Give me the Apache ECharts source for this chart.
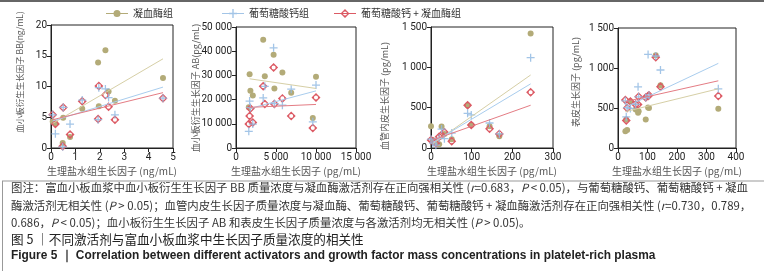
<!DOCTYPE html>
<html>
<head>
<meta charset="utf-8">
<script src="https://cdn.jsdelivr.net/npm/echarts@6/dist/echarts.min.js"></script>
<style>
  html, body { margin: 0; padding: 0; background: #fff; }
  #main { width: 764px; height: 271px; }
</style>
</head>
<body>
<div id="main"></div>
<script>
// group names
var groupNames = ['凝血酶组', '葡萄糖酸钙组', '葡萄糖酸钙 + 凝血酶组'];

// panel 1: PDGF-BB (ng/mL)
var bbX        = [0.07, 0.18, 0.48, 0.50, 0.78, 1.28, 1.93, 1.96, 2.23, 2.36, 2.62, 4.59];
var bbThrombin = [4.3, 4.0, 0.8, 4.9, 1.8, 6.4, 13.9, 6.8, 15.9, 9.2, 7.7, 11.4];
var bbCalcium  = [5.4, 2.3, 0.2, 6.6, 3.9, 7.8, 4.6, 9.8, 9.6, 8.2, 5.4, 8.1];
var bbMixed    = [5.4, 3.9, 0.3, 6.6, 2.2, 7.6, 4.7, 10.1, 8.6, 6.7, 4.6, 8.1];
var bbFitThrombin = [[0.07, 4.0], [4.59, 14.5]];
var bbFitCalcium  = [[0.07, 4.4], [4.59, 9.9]];
var bbFitMixed    = [[0.07, 4.6], [4.59, 9.0]];

// panel 2: PDGF-AB (pg/mL)
var abX        = [1600, 1700, 1800, 2100, 3400, 3600, 4700, 4800, 5800, 6900, 9600, 10000];
var abThrombin = [16800, 30500, 23700, 21700, 44700, 29600, 38500, 24600, 31200, 22800, 12400, 29400];
var abCalcium  = [6900, 19400, 16700, 9900, 20700, 25500, 41400, 18300, 17700, 24300, 10800, 26000];
var abMixed    = [9900, 13200, 16300, 10500, 25500, 18200, 33300, 18200, 20500, 13200, 8300, 20900];
var abFitThrombin = [[1700, 28600], [10000, 24600]];
var abFitCalcium  = [[1700, 16300], [10000, 23600]];
var abFitMixed    = [[1700, 16800], [10000, 18000]];

// panel 3: VEGF (pg/mL)
var veX        = [0, 5, 12, 20, 26, 33, 51, 90, 99, 144, 168, 245];
var veThrombin = [270, 95, 70, 45, 265, 175, 110, 530, 285, 270, 145, 1420];
var veCalcium  = [110, 60, 35, 120, 235, 115, 185, 430, 410, 310, 175, 1120];
var veMixed    = [100, 80, 60, 140, 160, 195, 85, 530, 285, 240, 175, 690];
var veFitThrombin = [[5, 55], [245, 905]];
var veFitCalcium  = [[5, 70], [245, 795]];
var veFitMixed    = [[5, 100], [245, 530]];

// panel 4: EGF (pg/mL)
var egX        = [25, 28, 31, 42, 60, 68, 70, 94, 102, 105, 128, 144, 340];
var egThrombin = [210, 355, 225, 585, 480, 440, 460, 355, 505, 500, 1160, 785, 490];
var egCalcium  = [590, 390, 505, 495, 545, 765, 640, 630, 1170, 660, 1150, 975, 740];
var egMixed    = [600, 345, 500, 580, 545, 545, 640, 632, 650, 660, 1135, 765, 650];
var egFitThrombin = [[25, 455], [340, 740]];
var egFitCalcium  = [[25, 510], [340, 1058]];
var egFitMixed    = [[25, 580], [340, 840]];

// axis ranges / ticks
var xMax = [5, 15000, 300, 400];
var xStep = [1, 5000, 100, 100];
var yMax = [20, 50000, 1500, 1500];
var yStep = [5, 10000, 500, 500];
var xTitles = ['生理盐水组生长因子 (ng/mL)', '生理盐水组生长因子 (pg/mL)', '生理盐水组生长因子 (pg/mL)', '生理盐水组生长因子 (pg/mL)'];
var yTitles = ['血小板衍生生长因子 BB(ng/mL)', '血小板衍生生长因子 AB(pg/mL)', '血管内皮生长因子 (pg/mL)', '表皮生长因子 (pg/mL)'];

var panels = [
  { x: bbX, ys: [bbThrombin, bbCalcium, bbMixed], fits: [bbFitThrombin, bbFitCalcium, bbFitMixed] },
  { x: abX, ys: [abThrombin, abCalcium, abMixed], fits: [abFitThrombin, abFitCalcium, abFitMixed] },
  { x: veX, ys: [veThrombin, veCalcium, veMixed], fits: [veFitThrombin, veFitCalcium, veFitMixed] },
  { x: egX, ys: [egThrombin, egCalcium, egMixed], fits: [egFitThrombin, egFitCalcium, egFitMixed] }
];

var colors = ['#b3ab78', '#93bbe3', '#dc5a64'];
var fitColors = ['#d6cfa6', '#a9cdee', '#e47c84'];
var symbols = [
  'circle',
  'path://M4.2,0H5.8V4.2H10V5.8H5.8V10H4.2V5.8H0V4.2H4.2Z',
  'path://M10,0L20,10L10,20L0,10Z M10,5.5A4.5,4.5 0 1,0 10,14.5A4.5,4.5 0 1,0 10,5.5Z'
];
var symbolSizes = [6, 8, 9];
var legendIcons = [
  'path://M0,4H22V5H0Z M11,1A3.5,3.5 0 1,1 11,8A3.5,3.5 0 1,1 11,1Z',
  'path://M0,4H22V5H0Z M10.3,0H11.7V9H10.3Z M7,3.8H15V5.2H7Z',
  'path://M0,4H22V5H0Z M11,0L15.5,4.5L11,9L6.5,4.5Z M11,2.5A2,2 0 1,0 11,6.5A2,2 0 1,0 11,2.5Z'
];

var grids = [
  { left: 51, top: 25, width: 122, height: 123 },
  { left: 236, top: 27, width: 120, height: 121 },
  { left: 431, top: 27, width: 122, height: 121 },
  { left: 618, top: 28, width: 118, height: 120 }
];
var yTitlePos = [[20, 72], [196, 88], [385, 96], [576, 82]];

function spaced(v) {
  return String(v).replace(/\B(?=(\d{3})+(?!\d))/g, ' ');
}

var axisBase = {
  axisLine: { show: true, onZero: false, lineStyle: { color: '#222', width: 1 } },
  axisTick: { show: true, length: 4, lineStyle: { color: '#222' } },
  splitLine: { show: false },
  axisLabel: { fontSize: 10, color: '#222', fontFamily: 'Roboto', margin: 4, formatter: spaced }
};

var xAxes = [], yAxes = [], series = [], graphics = [];
for (var i = 0; i < 4; i++) {
  xAxes.push(Object.assign({}, axisBase, {
    type: 'value', gridIndex: i, min: 0, max: xMax[i], interval: xStep[i],
    name: xTitles[i], nameLocation: 'middle', nameGap: 18,
    nameTextStyle: { fontSize: 10, color: '#555', fontFamily: 'Noto Sans CJK SC' }
  }));
  yAxes.push(Object.assign({}, axisBase, {
    type: 'value', gridIndex: i, min: 0, max: yMax[i], interval: yStep[i]
  }));
  graphics.push({
    type: 'text', x: yTitlePos[i][0], y: yTitlePos[i][1], rotation: Math.PI / 2,
    style: { text: yTitles[i], align: 'center', verticalAlign: 'middle',
      fontSize: i === 0 ? 8.5 : 9, fill: '#555', fontFamily: 'Noto Sans CJK SC' }
  });
  var p = panels[i];
  // trend lines first
  for (var g = 0; g < 3; g++) {
    series.push({
      name: 'fit' + g, type: 'line', xAxisIndex: i, yAxisIndex: i,
      data: p.fits[g], symbol: 'none', silent: true,
      lineStyle: { color: fitColors[g], width: 1 }
    });
  }
  // markers: thrombin, mixed, then calcium on top
  [0, 2, 1].forEach(function (g) {
    series.push({
      name: groupNames[g], type: 'scatter', xAxisIndex: i, yAxisIndex: i,
      symbol: symbols[g], symbolSize: symbolSizes[g],
      itemStyle: { color: colors[g], opacity: g === 1 ? 0.85 : 1 },
      data: p.x.map(function (xv, k) { return [xv, p.ys[g][k]]; })
    });
  });
}

// caption
var capFont = 'Noto Sans CJK SC';
var capSize = 11.4;
var capRich = { i: { fontStyle: 'italic', fontSize: capSize, fill: '#333', fontFamily: capFont } };
var capLines = [
  '图注：富血小板血浆中血小板衍生生长因子 BB 质量浓度与凝血酶激活剂存在正向强相关性 ({i|r}=0.683，{i|P} < 0.05)，与葡萄糖酸钙、葡萄糖酸钙 + 凝血',
  '酶激活剂无相关性 ({i|P} > 0.05)；血管内皮生长因子质量浓度与凝血酶、葡萄糖酸钙、葡萄糖酸钙 + 凝血酶激活剂存在正向强相关性 ({i|r}=0.730，0.789，',
  '0.686，{i|P} < 0.05)；血小板衍生生长因子 AB 和表皮生长因子质量浓度与各激活剂均无相关性 ({i|P} > 0.05)。'
];
var capY = [190, 208, 225];
capLines.forEach(function (t, k) {
  graphics.push({
    type: 'text', left: 11, top: capY[k] - 8,
    style: { text: t, fontSize: capSize, fill: '#333', fontFamily: capFont, rich: capRich }
  });
});
graphics.push({
  type: 'text', left: 11, top: 233,
  style: { text: '图 5 ｜不同激活剂与富血小板血浆中生长因子质量浓度的相关性', fontSize: 12.6, fill: '#222', fontFamily: capFont }
});
graphics.push({
  type: 'text', left: 11, top: 250,
  style: { text: 'Figure 5 ｜ Correlation between different activators and growth factor mass concentrations in platelet-rich plasma',
    fontSize: 11.9, fontWeight: 'bold', fill: '#222', fontFamily: 'Liberation Sans' }
});
// frame lines
graphics.push({ type: 'rect', shape: { x: 0, y: 0, width: 764, height: 2 }, style: { fill: '#666' } });
graphics.push({ type: 'line', shape: { x1: 2, y1: 181, x2: 764, y2: 181 }, style: { stroke: '#999', lineWidth: 1 } });
graphics.push({ type: 'line', shape: { x1: 2.5, y1: 181, x2: 2.5, y2: 271 }, style: { stroke: '#999', lineWidth: 1 } });

var legendLeft = [106, 222, 334];
var legends = groupNames.map(function (n, g) {
  return {
    data: [{ name: n, icon: legendIcons[g] }],
    left: legendLeft[g], top: 8.5, padding: 0,
    itemWidth: 22, itemHeight: 9, selectedMode: false,
    textStyle: { fontSize: 10, color: '#333', fontFamily: 'Noto Sans CJK SC' }
  };
});

var chart = echarts.init(document.getElementById('main'));
chart.setOption({
  animation: false,
  backgroundColor: '#fff',
  legend: legends,
  grid: grids.map(function (g) {
    return Object.assign({ show: true, borderColor: '#222', borderWidth: 1, containLabel: false }, g);
  }),
  xAxis: xAxes,
  yAxis: yAxes,
  series: series,
  graphic: graphics
});
window.addEventListener('resize', function () { chart.resize(); });
</script>
</body>
</html>
